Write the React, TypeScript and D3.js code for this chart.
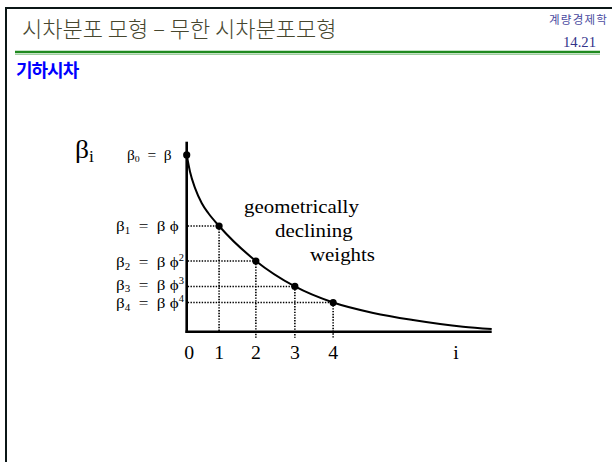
import React from "react";
import * as d3 from "d3";

// Lag index labels on the horizontal axis and where each sits (in lag units)
const lagLabels = ["0", "1", "2", "3", "4"];
const lagPos = [0, 0.88, 1.88, 2.94, 3.98];
// Geometric weights beta_i = beta * phi^i, relative to beta_0 = 1
const weights = [1, 0.598, 0.4, 0.256, 0.165];
// Weight label pieces: subscript index and power of phi
const weightSub = ["0", "1", "2", "3", "4"];
const weightPow = ["", "", "2", "3", "4"];
// Smooth decay curve traced through the weights and onward to the tail
const curveLag = [0, 0.09, 0.23, 0.41, 0.59, 0.88, 1.88, 2.94, 3.98, 5.07, 6.15, 7.51, 8.29];
const curveWeight = [1, 0.905, 0.811, 0.727, 0.67, 0.598, 0.4, 0.256, 0.165, 0.106, 0.066, 0.028, 0.015];
// Annotation lines
const noteLines = ["geometrically", "declining", "weights"];

const W = 612;
const H = 462;
const SERIF = "'Liberation Serif', 'Times New Roman', serif";
const KR = "'Noto Sans CJK KR', 'Noto Sans', sans-serif";
const SX = 1.1;

const x = d3.scaleLinear().domain([0, 8.29]).range([186.7, 491.7]);
const y = d3.scaleLinear().domain([0, 1.075]).range([331.7, 141.7]);

function SText(props: {
  x: number;
  y: number;
  size: number;
  anchor?: "start" | "middle" | "end";
  children: React.ReactNode;
}) {
  return (
    <text
      transform={`translate(${props.x},${props.y}) scale(${SX},1)`}
      fontFamily={SERIF}
      fontSize={props.size}
      textAnchor={props.anchor ?? "start"}
      fill="#000"
      style={{ whiteSpace: "pre" }}
    >
      {props.children}
    </text>
  );
}

export default function App() {
  const line = d3
    .line<number>()
    .x((_, i) => x(curveLag[i]))
    .y((d) => y(d))
    .curve(d3.curveMonotoneX);
  const curvePath = line(curveWeight) ?? "";

  const x0 = x(0);
  const yBase = y(0);
  // small baseline nudges so the tightly stacked labels don't collide
  const labelDy = [5, 5, 6, 3.5, 5.5];

  return (
    <svg
      width={W}
      height={H}
      viewBox={`0 0 ${W} ${H}`}
      style={{ position: "absolute", left: 0, top: 0, background: "#fff" }}
    >
      {/* slide frame */}
      <line x1={5} y1={8} x2={W} y2={8} stroke="#0b1616" strokeWidth={2} />
      <line x1={6} y1={7} x2={6} y2={H} stroke="#0b1616" strokeWidth={2} />

      {/* header */}
      <text x={22} y={37} fontFamily={KR} fontSize={22} fill="#46462e" fontWeight={300}>
        시차분포 모형 – 무한 시차분포모형
      </text>
      <text x={608} y={24} fontFamily={KR} fontSize={11.5} fill="#4a4aa0" textAnchor="end" letterSpacing={1.2}>
        계량경제학
      </text>
      <text
        transform={`translate(596,47) scale(1.05,1)`}
        fontFamily={SERIF}
        fontSize={14}
        fill="#33338a"
        textAnchor="end"
      >
        14.21
      </text>
      <line x1={15} y1={52} x2={600} y2={52} stroke="#1f8a1f" strokeWidth={2.4} />
      <line x1={15} y1={54.5} x2={600} y2={54.5} stroke="#9fcf9f" strokeWidth={1} />
      <text x={16} y={77} fontFamily={KR} fontSize={18} fontWeight={700} fill="#0000ff" letterSpacing={-1}>
        기하시차
      </text>

      {/* y label */}
      <SText x={75} y={158} size={25}>
        β
        <tspan fontSize={16} dy={4}>i</tspan>
      </SText>

      {/* dotted guides */}
      {weights.slice(1).map((w, k) => {
        const i = k + 1;
        return (
          <g key={`g${i}`} stroke="#000" strokeWidth={1.6} strokeDasharray="1.4,1.4">
            <line x1={x0 + 1} y1={y(w)} x2={x(lagPos[i])} y2={y(w)} />
            <line x1={x(lagPos[i])} y1={y(w)} x2={x(lagPos[i])} y2={yBase + (i >= 2 ? 6 : 0)} />
          </g>
        );
      })}

      {/* axes */}
      <line x1={x0} y1={y.range()[1]} x2={x0} y2={yBase + 1.2} stroke="#000" strokeWidth={2.6} />
      <line x1={x0 - 1.2} y1={yBase} x2={x.range()[1]} y2={yBase} stroke="#000" strokeWidth={2.6} />

      {/* decay curve */}
      <path d={curvePath} fill="none" stroke="#000" strokeWidth={2} />

      {/* weight points */}
      {weights.map((w, i) => (
        <circle key={`p${i}`} cx={x(lagPos[i])} cy={y(w)} r={3.6} fill="#000" />
      ))}

      {/* weight labels */}
      {weights.map((w, i) =>
        i === 0 ? (
          <SText key={`l${i}`} x={127} y={y(w) + labelDy[i]} size={14}>
            β<tspan fontSize={9} dy={2}>{weightSub[i]}</tspan>
            <tspan dy={-2}>{"  =  β"}</tspan>
          </SText>
        ) : (
          <SText key={`l${i}`} x={116} y={y(w) + labelDy[i]} size={15.5}>
            β<tspan fontSize={10} dy={2.5}>{weightSub[i]}</tspan>
            <tspan dy={-2.5}>{"  =  β ϕ"}</tspan>
            {weightPow[i] ? (
              <tspan fontSize={9.5} dy={-6}>
                {weightPow[i]}
              </tspan>
            ) : null}
          </SText>
        )
      )}

      {/* annotation */}
      <SText x={244} y={213} size={19}>{noteLines[0]}</SText>
      <SText x={275} y={237} size={19}>{noteLines[1]}</SText>
      <SText x={310} y={261} size={19}>{noteLines[2]}</SText>

      {/* lag ticks */}
      {lagLabels.map((t, i) => (
        <SText key={`t${i}`} x={x(lagPos[i]) + (i === 0 ? 2.5 : 0)} y={359} size={18} anchor="middle">
          {t}
        </SText>
      ))}
      <SText x={456} y={359} size={18} anchor="middle">
        i
      </SText>
    </svg>
  );
}
